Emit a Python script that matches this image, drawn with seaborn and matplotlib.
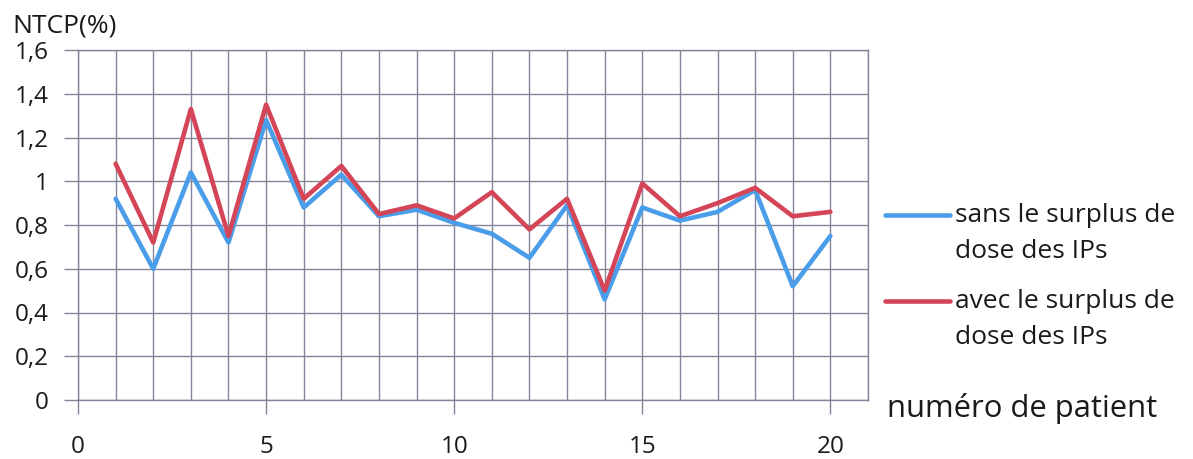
import matplotlib
matplotlib.use("Agg")
import matplotlib.pyplot as plt
import seaborn as sns
import pandas as pd
import numpy as np

# Patients and NTCP values (%)
patients = list(range(1, 21))
ntcp_sans = [0.92, 0.60, 1.04, 0.72, 1.28, 0.88, 1.03, 0.84, 0.87, 0.81,
             0.76, 0.65, 0.89, 0.46, 0.88, 0.82, 0.86, 0.96, 0.52, 0.75]
ntcp_avec = [1.08, 0.72, 1.33, 0.75, 1.35, 0.92, 1.07, 0.85, 0.89, 0.83,
             0.95, 0.78, 0.92, 0.50, 0.99, 0.84, 0.90, 0.97, 0.84, 0.86]
series_labels = ["sans le surplus de\ndose des IPs", "avec le surplus de\ndose des IPs"]
x_ticks = [0, 5, 10, 15, 20]
y_ticks = [0, 0.2, 0.4, 0.6, 0.8, 1.0, 1.2, 1.4, 1.6]
y_tick_labels = ["0", "0,2", "0,4", "0,6", "0,8", "1", "1,2", "1,4", "1,6"]

df = pd.DataFrame({
    "patient": patients * 2,
    "ntcp": ntcp_sans + ntcp_avec,
    "serie": [series_labels[0]] * len(patients) + [series_labels[1]] * len(patients),
})

sns.set_theme(style="white")
plt.rcParams["font.family"] = ["Open Sans", "DejaVu Sans"]

W, H = 1193, 459
fig = plt.figure(figsize=(W / 100, H / 100), dpi=100)
ax = fig.add_axes([78 / W, 1 - 400 / H, (868 - 78) / W, 350 / H])

blue = "#4a9de8"
red = "#d44558"
sns.lineplot(data=df, x="patient", y="ntcp", hue="serie",
             palette=[blue, red], linewidth=3.3, ax=ax, legend=True)

grid_col = "#85859a"
ax.set_xlim(0, 21)
ax.set_ylim(0, 1.6)
ax.set_xticks(x_ticks)
ax.set_xticks(range(0, 22), minor=True)
ax.set_yticks(y_ticks)
ax.set_yticklabels(y_tick_labels)
ax.grid(True, which="both", color=grid_col, linewidth=1.0)
ax.set_axisbelow(True)
for s in ax.spines.values():
    s.set_color(grid_col)
    s.set_linewidth(1.0)
text_col = "#1a1a1a"
ax.tick_params(axis="x", which="major", direction="out", length=10, width=1,
               color=grid_col, pad=15, labelsize=17.5, labelcolor=text_col)
ax.tick_params(axis="x", which="minor", length=0)
ax.tick_params(axis="y", direction="out", length=10, width=1,
               color=grid_col, pad=11, labelsize=17.5, labelcolor=text_col)
ax.tick_params(bottom=True, left=True)
ax.set_xlabel("")
ax.set_ylabel("")

fig.text(12 / W, 1 - 26 / H, "NTCP(%)", fontsize=19, color=text_col,
         ha="left", va="center")
fig.text(887 / W, 1 - 408 / H, "numéro de patient", fontsize=22.3,
         color=text_col, ha="left", va="center")

leg_size = 19
line_sp = 1.58
leg = ax.legend(loc="upper left", bbox_to_anchor=(885 / W, 1 - 203 / H),
                bbox_transform=fig.transFigure, frameon=False,
                fontsize=leg_size, handlelength=2.45, handletextpad=0.22,
                labelspacing=0.95, borderpad=0, borderaxespad=0)
pitch_pt = line_sp * 0.86 * leg_size
for t in leg.get_texts():
    t.set_color(text_col)
    t.set_linespacing(line_sp)
# put each legend line level with the first line of its label
for line in leg.get_lines():
    line.set_linewidth(3.3)
    line.set_ydata(np.asarray(line.get_ydata()) + pitch_pt / 2 + 0.7)

fig.savefig("out.png", dpi=100)
